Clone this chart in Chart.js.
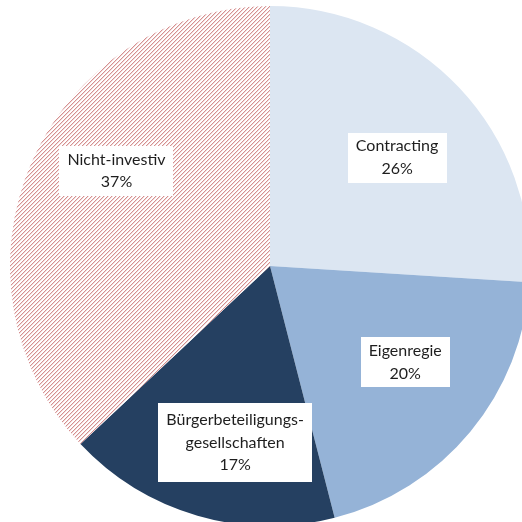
<!DOCTYPE html>
<html>
<head>
<meta charset="utf-8">
<script src="https://cdn.jsdelivr.net/npm/chart.js@4.4.1/dist/chart.umd.min.js"></script>
<style>
  html, body { margin: 0; padding: 0; background: #fff; overflow: hidden; width: 522px; height: 522px; }
  .chart-box { position: absolute; left: 10px; top: 6px; width: 520px; height: 520px; }
</style>
</head>
<body>
<div class="chart-box"><canvas id="pieChart"></canvas></div>
<script>
const categories = ['Contracting', 'Eigenregie', 'Bürgerbeteiligungsgesellschaften', 'Nicht-investiv'];
const labelLines = [['Contracting'], ['Eigenregie'], ['Bürgerbeteiligungs-', 'gesellschaften'], ['Nicht-investiv']];
const shares = [26, 20, 17, 37];

// small nudges so the boxes sit where the original put them
const labelNudge = [[2, 9], [3, -13], [13, 12], [4, -27]];

// red hatch for the last slice
const makeHatch = () => {
  const c = document.createElement('canvas');
  c.width = 4; c.height = 4;
  const ctx = c.getContext('2d');
  ctx.fillStyle = '#ffffff';
  ctx.fillRect(0, 0, 4, 4);
  for (let i = 0; i < 4; i++) {
    ctx.fillStyle = 'rgba(185, 70, 70, 0.6)';
    ctx.fillRect(i, 3 - i, 1, 1);
    ctx.fillStyle = 'rgba(195, 90, 90, 0.22)';
    ctx.fillRect(i, (4 - i) % 4, 1, 1);
  }
  return ctx.createPattern(c, 'repeat');
};

const colors = ['#dce6f2', '#95b3d7', '#254061', makeHatch()];

const boxLabels = {
  id: 'boxLabels',
  afterDatasetsDraw(chart) {
    const ctx = chart.ctx;
    const meta = chart.getDatasetMeta(0);
    const lineH = 22.5;
    ctx.save();
    ctx.font = '16px Lato';
    ctx.textAlign = 'center';
    ctx.textBaseline = 'middle';
    meta.data.forEach((arc, i) => {
      const p = arc.getProps(['x', 'y', 'startAngle', 'endAngle', 'outerRadius'], true);
      const mid = (p.startAngle + p.endAngle) / 2;
      const r = p.outerRadius * 0.66;
      const cx = p.x + Math.cos(mid) * r + labelNudge[i][0];
      const cy = p.y + Math.sin(mid) * r + labelNudge[i][1];
      const lines = labelLines[i].concat([shares[i] + '%']);
      const w = Math.max(...lines.map(l => ctx.measureText(l).width)) + 16;
      const h = lines.length * 29 - 8;
      ctx.fillStyle = '#ffffff';
      ctx.fillRect(Math.round(cx - w / 2), Math.round(cy - h / 2), Math.round(w), Math.round(h));
      ctx.fillStyle = '#1e1e1e';
      const top = cy - (lines.length * lineH) / 2;
      lines.forEach((l, k) => {
        ctx.fillText(l, cx, top + lineH * (k + 0.5));
      });
    });
    ctx.restore();
  }
};

new Chart(document.getElementById('pieChart'), {
  type: 'pie',
  data: {
    labels: categories,
    datasets: [{
      data: shares,
      backgroundColor: colors,
      borderWidth: 0,
    }],
  },
  options: {
    responsive: true,
    maintainAspectRatio: false,
    animation: false,
    layout: { padding: 0 },
    plugins: { legend: { display: false }, tooltip: { enabled: false } },
  },
  plugins: [boxLabels],
});
</script>
</body>
</html>
